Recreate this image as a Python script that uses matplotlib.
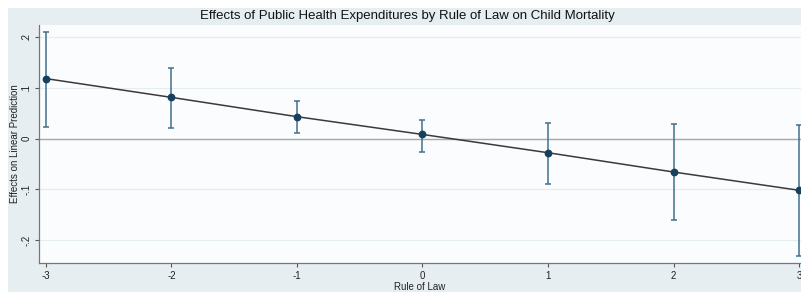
import matplotlib.pyplot as plt
from matplotlib.patches import Rectangle
import numpy as np

plt.rcParams['font.family'] = ['Liberation Sans', 'DejaVu Sans']

# values
rule_of_law = [-3, -2, -1, 0, 1, 2, 3]
effect = [0.118, 0.081, 0.043, 0.008, -0.028, -0.066, -0.102]
ci_low = [0.022, 0.020, 0.011, -0.026, -0.089, -0.161, -0.232]
ci_high = [0.209, 0.139, 0.073, 0.037, 0.030, 0.028, 0.027]
yticks = [-0.2, -0.1, 0, 0.1, 0.2]
ytick_labels = ['-.2', '-.1', '0', '.1', '.2']

fig = plt.figure(figsize=(8.01, 2.92), dpi=100)
fig.patch.set_facecolor('white')
# stata-style light blue background, with white strip on top/left
fig.patches.append(Rectangle((8 / 801, 0), 1, 1 - 8 / 292, transform=fig.transFigure,
                             facecolor='#e6eef2', edgecolor='none', zorder=-10))

ax = fig.add_axes([39 / 801, 1 - 263 / 292, 1 - 39 / 801, (263 - 25) / 292])
ax.set_facecolor('#fbfcfd')

x = np.array(rule_of_law)
y = np.array(effect)
lo = np.array(ci_low)
hi = np.array(ci_high)

for v in yticks:
    ax.axhline(v, color='#e4eef2', lw=0.9, zorder=1)
ax.axhline(0, color='#a9a9a9', lw=1.0, zorder=2)

ax.errorbar(x, y, yerr=[y - lo, hi - y], fmt='none', ecolor='#40708f',
            elinewidth=1.1, capsize=2.5, capthick=1.1, zorder=3)
ax.plot(x, y, color='#3a3a3a', lw=1.1, zorder=4)
ax.plot(x, y, 'o', color='#17405f', ms=4.6, zorder=5)

ax.set_xlim(-3 - 7 / 125.5, 3 + 2 / 125.5)
ax.set_ylim(-0.2 - 23 / 508, 0.2 + 12 / 508)
ax.set_xticks(rule_of_law)
ax.set_xticklabels([str(v) for v in rule_of_law], fontsize=7, color='#222222')
ax.set_yticks(yticks)
ax.set_yticklabels(ytick_labels, fontsize=7, rotation=90, va='center', color='#222222')
ax.tick_params(axis='both', length=3, width=0.8, color='#555555', pad=2.5)

for s in ['top', 'right']:
    ax.spines[s].set_visible(False)
for s in ['left', 'bottom']:
    ax.spines[s].set_color('#777777')
    ax.spines[s].set_linewidth(0.9)

ax.set_xlabel('Rule of Law', fontsize=7, labelpad=1, color='#222222')
ax.set_ylabel('Effects on Linear Prediction', fontsize=7, labelpad=1, color='#222222')
fig.text(0.509, 1 - 16 / 292, 'Effects of Public Health Expenditures by Rule of Law on Child Mortality',
         ha='center', va='center', fontsize=9.5, color='#111111')

fig.savefig('out.png', dpi=100)
